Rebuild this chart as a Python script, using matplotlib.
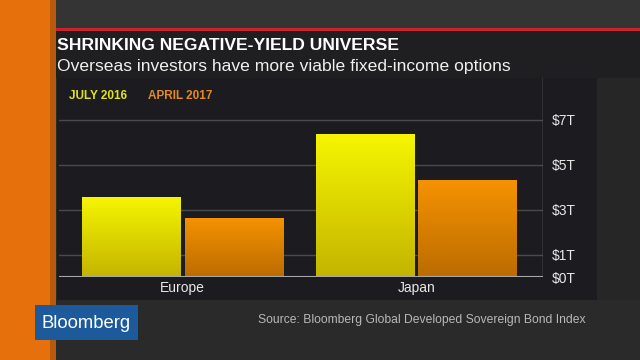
import numpy as np
import matplotlib
matplotlib.use('Agg')
import matplotlib.pyplot as plt
from matplotlib.patches import Rectangle
from matplotlib.colors import LinearSegmentedColormap

# chart data (trillions of USD)
regions = ['Europe', 'Japan']
july_2016 = [3.55, 6.35]
april_2017 = [2.6, 4.3]
tick_vals = [0, 1, 3, 5, 7]
tick_labels = ['$0T', '$1T', '$3T', '$5T', '$7T']

W, H = 640, 360
fig = plt.figure(figsize=(6.4, 3.6), dpi=100)
fig.patch.set_facecolor('#2a2a2b')

def px(x, y, w, h):
    # pixel box (top-left origin) -> figure fraction box
    return [x / W, 1 - (y + h) / H, w / W, h / H]

def box(x, y, w, h, color, z=0):
    l, b, ww, hh = px(x, y, w, h)
    fig.patches.append(Rectangle((l, b), ww, hh, transform=fig.transFigure,
                                 facecolor=color, edgecolor='none', zorder=z))

# background pieces
box(55, 0, 585, 28, '#343435')
box(55, 28, 585, 3, '#c8242b')
box(55, 31, 585, 47, '#1f1f21')
box(57, 78, 540, 222, '#1c1c20')
box(597, 78, 43, 222, '#262627')
box(0, 0, 55, 360, '#e5700c', z=1)
box(50, 0, 6, 360, '#b85a0c', z=1)

# header text
fig.text(57 / W, 1 - 46 / H, 'SHRINKING NEGATIVE-YIELD UNIVERSE', color='white',
         fontsize=12.6, fontweight='bold', family='Liberation Sans',
         va='center', ha='left')
fig.text(57 / W, 1 - 66 / H, 'Overseas investors have more viable fixed-income options',
         color='#f0f0f0', fontsize=12.6, family='Liberation Sans', va='center', ha='left')

# legend
fig.text(69 / W, 1 - 96 / H, 'JULY 2016', color='#e3e31c', fontsize=8.5,
         fontweight='bold', family='Liberation Sans', va='center')
fig.text(148 / W, 1 - 96 / H, 'APRIL 2017', color='#e38a25', fontsize=8.5,
         fontweight='bold', family='Liberation Sans', va='center')

# plot area: baseline at y=277, 22.5 px per $1T
top, base, left, right = 78, 277, 59, 543
ax = fig.add_axes(px(left, top, right - left, base - top))
ax.set_facecolor('none')
ax.set_zorder(5)

x = np.arange(len(regions))
width = 0.42
offset = 0.22

yellow = LinearSegmentedColormap.from_list('y', ['#c4b400', '#f5f500'])
orange = LinearSegmentedColormap.from_list('o', ['#bb6c00', '#f59200'])
grad = np.linspace(0, 1, 100).reshape(-1, 1)

for xs, vals, cmap in [(x - offset, july_2016, yellow), (x + offset, april_2017, orange)]:
    for xc, v in zip(xs, vals):
        ax.imshow(grad, extent=[xc - width / 2, xc + width / 2, 0, v], origin='lower',
                  aspect='auto', cmap=cmap, zorder=3)

for t in tick_vals[1:]:
    ax.axhline(t, color='#4a4a4e', lw=1, zorder=1)
ax.axhline(0, color='#a8a8a8', lw=1.5, zorder=4)
ax.axvline(1.543, color='#8a8a8a', lw=1, zorder=4)

ax.set_xlim(-0.529, 1.543)
ax.set_ylim(0, (base - top) / 22.5)
for s in ax.spines.values():
    s.set_visible(False)
ax.set_xticks(x)
ax.set_xticklabels(regions, color='#e8e8e8', fontsize=10, family='Liberation Sans')
ax.tick_params(axis='x', length=0, pad=3)
ax.yaxis.tick_right()
ax.set_yticks(tick_vals)
ax.set_yticklabels(tick_labels, color='#e8e8e8', fontsize=10, family='Liberation Sans')
ax.tick_params(axis='y', length=0, pad=6)

# logo and source
box(35, 305, 103, 35, '#1d5a9c', z=2)
fig.text(86 / W, 1 - 323 / H, 'Bloomberg', color='white', fontsize=13.3,
         family='Liberation Sans', ha='center', va='center', zorder=3)
fig.text(258 / W, 1 - 320 / H, 'Source: Bloomberg Global Developed Sovereign Bond Index',
         color='#b8b8b8', fontsize=8.7, family='Liberation Sans', va='center')

fig.savefig('out.png', dpi=100, facecolor=fig.get_facecolor())
